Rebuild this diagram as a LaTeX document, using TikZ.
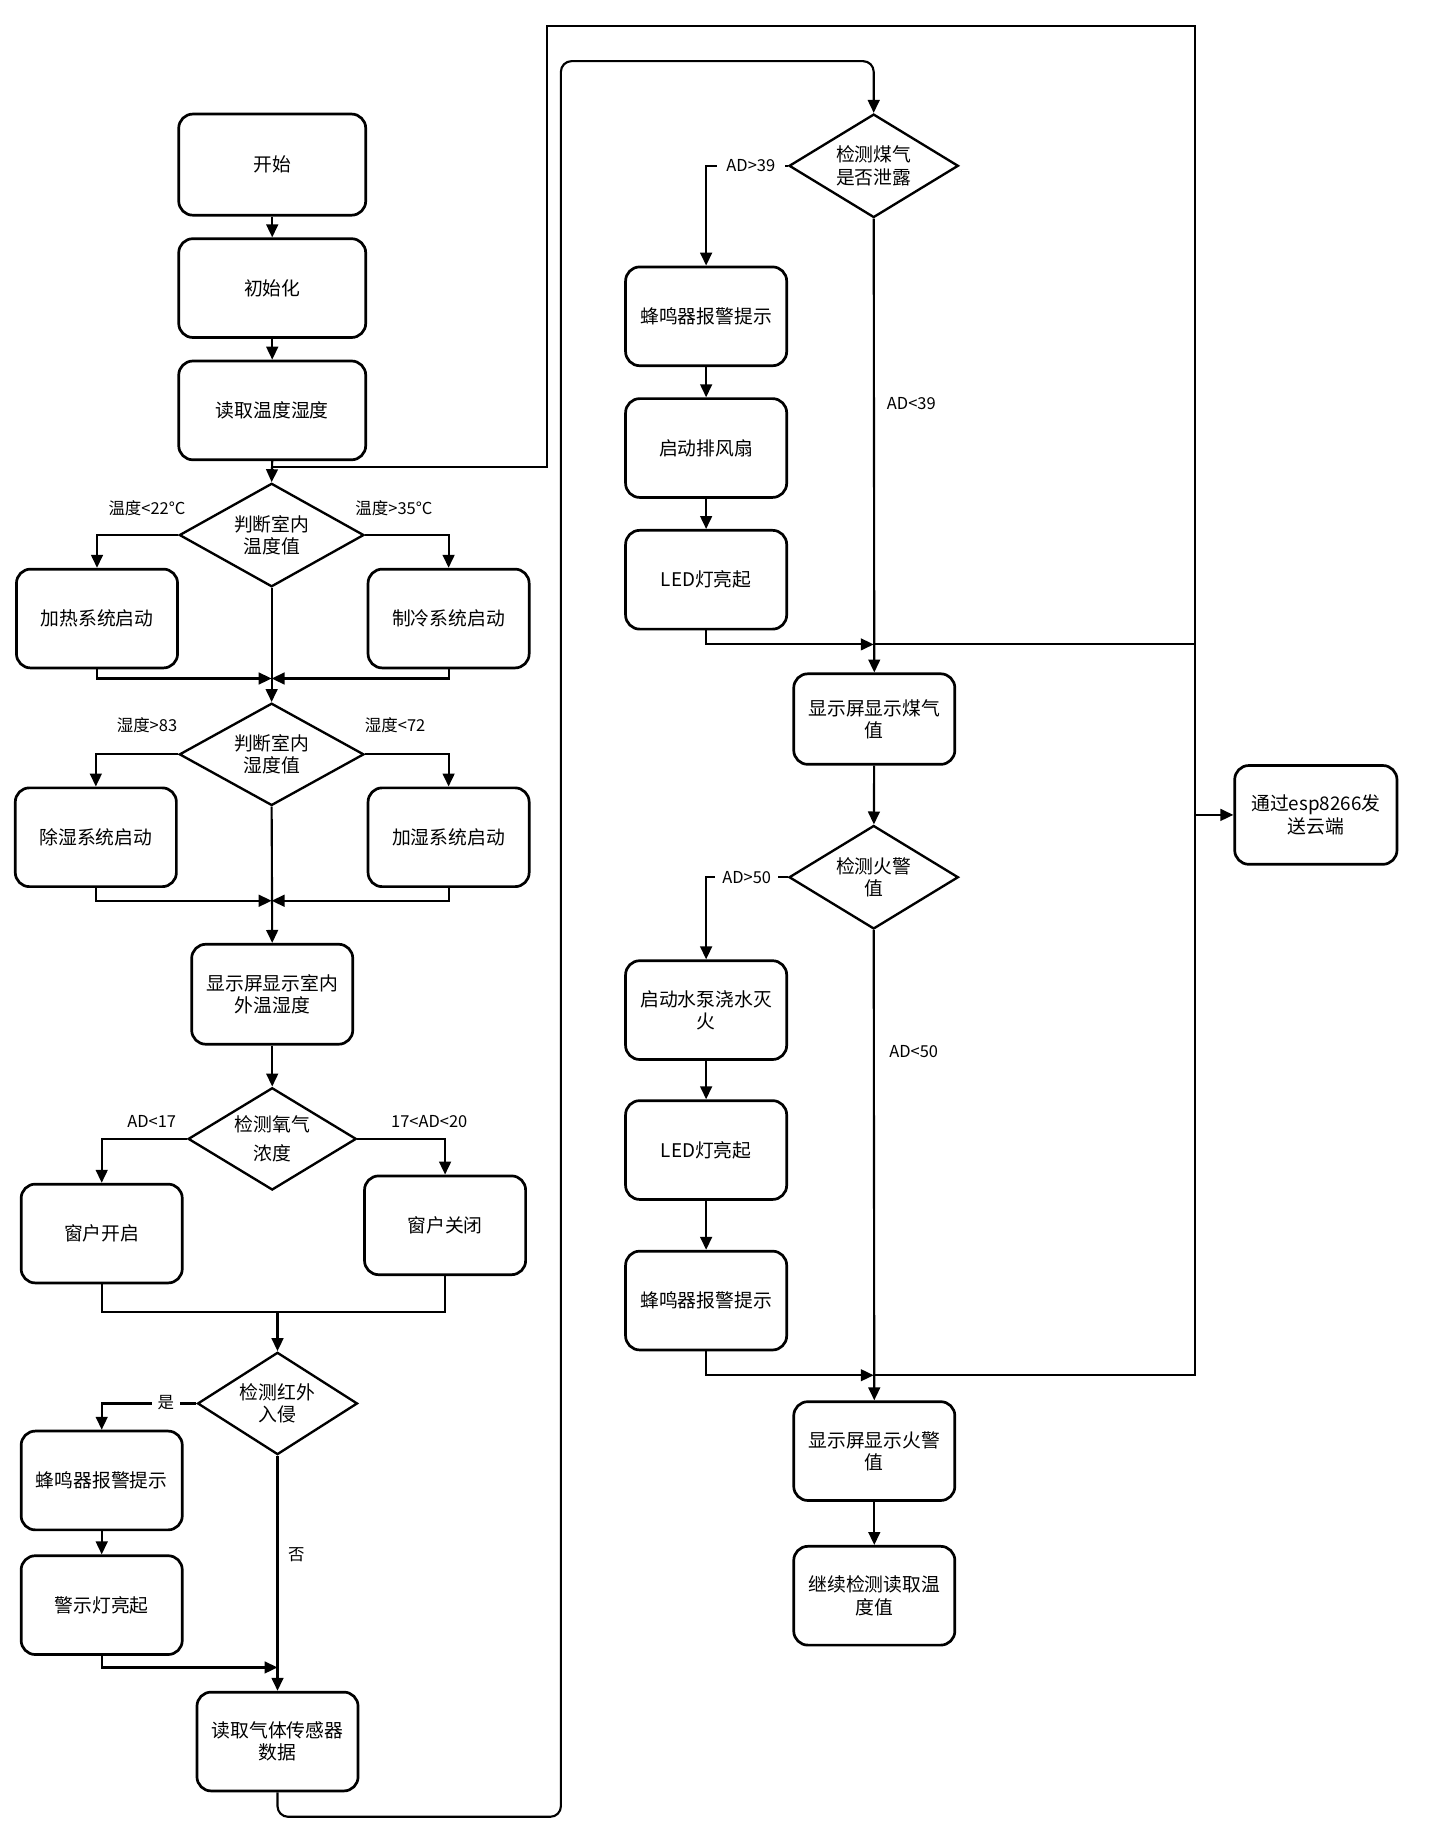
\documentclass[tikz,border=0pt]{standalone}
\usepackage{fontspec}
\setmainfont{Noto Sans CJK SC}
\usetikzlibrary{shapes.geometric,arrows.meta}
\newcommand{\bxfont}{\fontsize{16}{19}\selectfont}
\newcommand{\bxfontwide}{\fontsize{16}{25}\selectfont}
\newcommand{\lbfont}{\fontsize{14}{16}\selectfont}
\begin{document}
\begin{tikzpicture}[x=1pt,y=-1pt,
 box/.style={draw,line width=2.3pt,rounded corners=12pt,minimum width=137pt,minimum height=84pt,align=center,font=\bxfont,inner sep=2pt},
 dec/.style={draw,diamond,line width=2pt,aspect=1.7,inner sep=0pt,minimum width=144pt,minimum height=88pt,align=center,font=\bxfont},
 lab/.style={font=\lbfont,inner sep=1pt},
 wlab/.style={lab,fill=white,inner xsep=7pt,inner ysep=3pt},
 conn/.style={line width=1.8pt,-{Triangle[length=11pt,width=10pt]}},
 wire/.style={line width=1.8pt},
 backline/.style={line width=1.6pt}]
\fill[white] (0,0) rectangle (1218,1569);
\useasboundingbox (0,0) rectangle (1218,1569);

% ---------- left column ----------
\node[box,minimum width=159pt,minimum height=86pt] (start) at (231.5,140) {开始};
\node[box,minimum width=159pt] (init) at (231.5,245) {初始化};
\node[box,minimum width=159pt] (readth) at (231.5,349) {读取温度湿度};
\node[dec,minimum width=157pt] (dtemp) at (231,455) {判断室内\\温度值};
\node[box] (heat) at (82.5,526) {加热系统启动};
\node[box] (cool) at (381.5,526) {制冷系统启动};
\node[dec,minimum width=157pt,minimum height=87pt] (dhum) at (231,641.5) {判断室内\\湿度值};
\node[box] (dehum) at (81.5,712) {除湿系统启动};
\node[box] (humid) at (381.5,712) {加湿系统启动};
\node[box,minimum height=85pt] (disp1) at (231.5,845.5) {显示屏显示室内\\外温湿度};
\node[dec,minimum width=143pt,minimum height=87pt,font=\bxfontwide] (doxy) at (231.5,968.5) {检测氧气\\浓度};
\node[box] (winopen) at (86.5,1049) {窗户开启};
\node[box] (winclose) at (378.5,1042) {窗户关闭};
\node[dec,minimum width=136pt,minimum height=87pt] (dir) at (236,1193.5) {检测红外\\入侵};
\node[box] (buzz1) at (86.5,1259) {蜂鸣器报警提示};
\node[box] (warnlight) at (86.5,1365) {警示灯亮起};
\node[box] (readgas) at (236,1481) {读取气体传感器\\数据};

% ---------- right column ----------
\node[dec] (dgas) at (743,141) {检测煤气\\是否泄露};
\node[box] (buzz2) at (600.5,269) {蜂鸣器报警提示};
\node[box] (fan) at (600.5,381) {启动排风扇};
\node[box] (led1) at (600.5,493) {LED灯亮起};
\node[box,minimum height=77pt] (disp2) at (743.5,611.5) {显示屏显示煤气\\值};
\node[dec] (dfire) at (743,746) {检测火警\\值};
\node[box] (pump) at (600.5,859) {启动水泵浇水灭\\火};
\node[box] (led2) at (600.5,978) {LED灯亮起};
\node[box] (buzz3) at (600.5,1106) {蜂鸣器报警提示};
\node[box] (disp3) at (743.5,1234) {显示屏显示火警\\值};
\node[box] (cont) at (743.5,1357) {继续检测读取温\\度值};
\node[box,minimum width=138pt] (esp) at (1119,693) {通过esp8266发\\送云端};

% ---------- junction coordinates ----------
\coordinate (jTop) at (231,397);
\coordinate (jTemp) at (231,577);
\coordinate (jHum) at (231,766);
\coordinate (jOxy) at (236,1116);
\coordinate (jIr) at (236,1418);
\coordinate (jGas) at (743,548);
\coordinate (jFire) at (743,1169.5);
\coordinate (rGas) at (1016,548);
\coordinate (rFire) at (1016,1169.5);
\coordinate (rEsp) at (1016,693);
\coordinate (rTop) at (1016,22);
\coordinate (lTop) at (465,22);
\coordinate (lLow) at (465,397);

% ---------- connectors: left ----------
\draw[conn] (start) -- (init);
\draw[conn] (init) -- (readth);
\draw[conn] (readth.south) -- (dtemp.north);
\draw[backline] (jGas) -- (rGas);
\draw[backline] (jFire) -- (rFire) -- (rTop) -- (lTop) -- (lLow) -- (jTop);
\draw[conn] (rEsp) -- (esp.west);

\draw[conn] (dtemp.west) -| (heat.north);
\draw[conn] (dtemp.east) -| (cool.north);
\draw[conn] (dtemp.south) -- (dhum.north);
\draw[conn] (heat.south) |- (jTemp);
\draw[conn] (cool.south) |- (jTemp);

\draw[conn] (dhum.west) -| (dehum.north);
\draw[conn] (dhum.east) -| (humid.north);
\draw[conn] (dhum.south) -- (disp1.north);
\draw[conn] (dehum.south) |- (jHum);
\draw[conn] (humid.south) |- (jHum);

\draw[conn] (disp1) -- (doxy);
\draw[conn] (doxy.west) -| (winopen.north);
\draw[conn] (doxy.east) -| (winclose.north);
\draw[wire] (winopen.south) |- (jOxy) -| (winclose.south);
\draw[conn] (jOxy) -- (dir.north);

\draw[conn] (dir.west) -| (buzz1.north);
\draw[conn] (buzz1) -- (warnlight);
\draw[conn] (warnlight.south) |- (jIr);
\draw[conn] (dir.south) -- (readgas.north);
\draw[conn,rounded corners=9pt] (readgas.south) -- (236,1545) -- (477,1545) -- (477,52) -- (743,52) -- (dgas.north);

% ---------- connectors: right ----------
\draw[conn] (dgas.west) -| (buzz2.north);
\draw[conn] (buzz2) -- (fan);
\draw[conn] (fan) -- (led1);
\draw[conn] (led1.south) |- (jGas);
\draw[conn] (dgas.south) -- (disp2.north);
\draw[conn] (disp2) -- (dfire);
\draw[conn] (dfire.west) -| (pump.north);
\draw[conn] (pump) -- (led2);
\draw[conn] (led2) -- (buzz3);
\draw[conn] (buzz3.south) |- (jFire);
\draw[conn] (dfire.south) -- (disp3.north);
\draw[conn] (disp3) -- (cont);

% ---------- labels ----------
\node[lab] (l1) at (125,432) {温度<22°C};
\node[lab] (l2) at (335,432) {温度>35°C};
\node[lab] (l3) at (125,617) {湿度>83};
\node[lab] (l4) at (336,617) {湿度<72};
\node[lab] (l5) at (129,954) {AD<17};
\node[lab] (l6) at (365,954) {17<AD<20};
\node[wlab,inner xsep=5pt] (l7) at (141,1193) {是};
\node[lab] (l8) at (252,1322) {否};
\node[wlab,inner xsep=8pt] (l9) at (638.5,141) {AD>39};
\node[lab] (l10) at (775,343) {AD<39};
\node[wlab,inner xsep=6pt] (l11) at (635,746) {AD>50};
\node[lab] (l12) at (777,894) {AD<50};
\end{tikzpicture}
\end{document}
